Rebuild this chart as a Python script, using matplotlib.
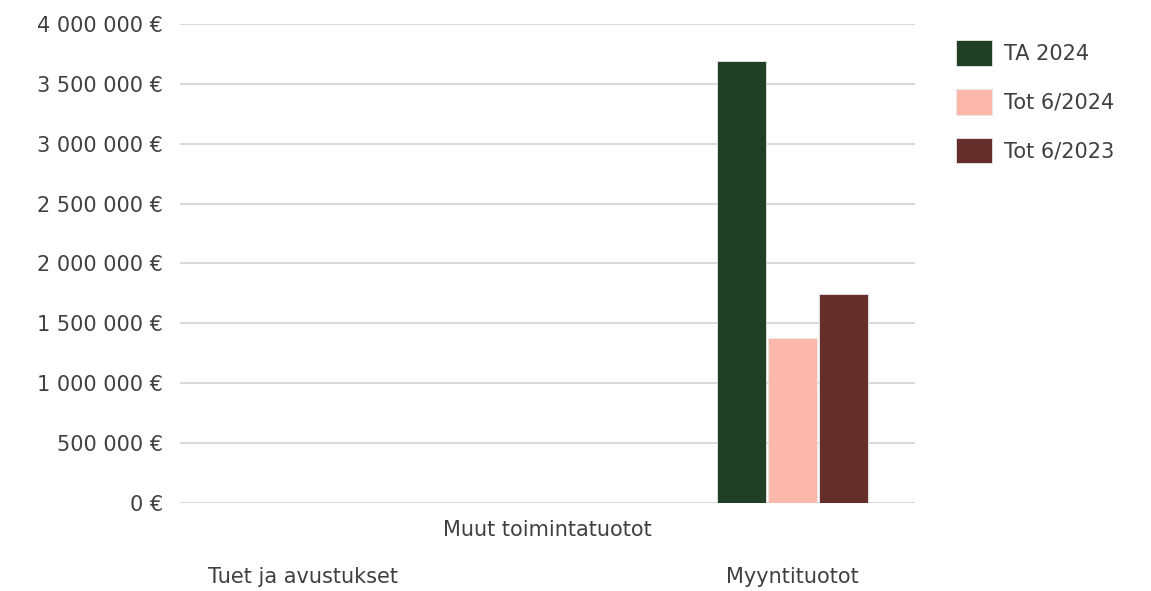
import matplotlib.pyplot as plt
import numpy as np
from matplotlib.ticker import FuncFormatter

categories = ["Tuet ja avustukset", "Muut toimintatuotot", "Myyntituotot"]
series_names = ["TA 2024", "Tot 6/2024", "Tot 6/2023"]
ta_2024 = [0, 0, 3690000]
tot_6_2024 = [0, 0, 1378000]
tot_6_2023 = [0, 0, 1745000]

colors = ["#213f25", "#fcb9ab", "#662e2a"]
text_col = "#404040"
fs = 15

fig = plt.figure(figsize=(11.51, 5.91), dpi=100)
ax = fig.add_axes([0.1564, 0.1489, 0.795 - 0.1564, 0.9594 - 0.1489])

x = np.arange(len(categories))
w = 0.2
offsets = [-0.21, 0, 0.21]
for vals, name, c, off in zip([ta_2024, tot_6_2024, tot_6_2023], series_names, colors, offsets):
    ax.bar(x + off, vals, width=w, color=c, edgecolor="#e8e8e8", linewidth=0.6,
           label=name, zorder=3)

ax.set_xlim(-0.5, 2.5)
ax.set_ylim(0, 4000000)
ax.set_yticks(np.arange(0, 4000001, 500000))
ax.yaxis.set_major_formatter(FuncFormatter(lambda v, p: f"{int(v):,} €".replace(",", " ")))
ax.grid(axis="y", color="#d9d9d9", linewidth=1.5, zorder=0)
for s in ax.spines.values():
    s.set_visible(False)
ax.tick_params(axis="y", length=0, pad=12, labelsize=fs, labelcolor=text_col)
ax.tick_params(axis="x", length=0, labelsize=fs, labelcolor=text_col)

ax.set_xticks(x)
ax.set_xticklabels(categories)
pads = [46, 12, 46]
for tick, p in zip(ax.xaxis.get_major_ticks(), pads):
    tick.set_pad(p)

leg = ax.legend(loc="upper left", bbox_to_anchor=(1.03, 1.005), frameon=False,
                fontsize=fs, handlelength=1.75, handleheight=1.5,
                labelspacing=1.12, handletextpad=0.55)
for t in leg.get_texts():
    t.set_color(text_col)

fig.savefig("out.png", dpi=100)
